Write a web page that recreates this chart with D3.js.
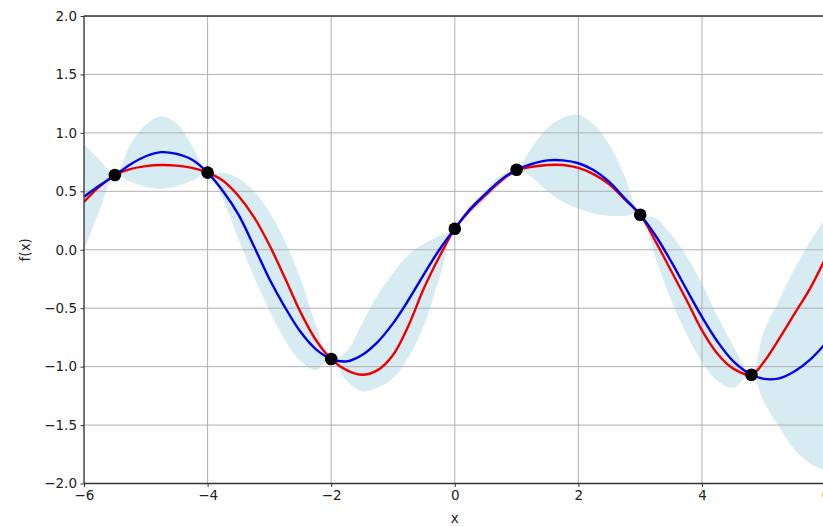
<!DOCTYPE html>
<html>
<head>
<meta charset="utf-8">
<script src="https://cdn.jsdelivr.net/npm/d3@7"></script>
<style>
  html, body { margin: 0; padding: 0; background: #fff; }
  svg { display: block; font-family: "DejaVu Sans", sans-serif; }
</style>
</head>
<body>
<svg id="chart" width="823" height="526"></svg>
<script>
// Sample positions along x
const xs = [-6, -5.75, -5.5, -5.25, -5, -4.75, -4.5, -4.25, -4, -3.75, -3.5, -3.25,
            -3, -2.75, -2.5, -2.25, -2, -1.75, -1.5, -1.25, -1, -0.75, -0.5, -0.25,
            0, 0.25, 0.5, 0.75, 1, 1.25, 1.5, 1.75, 2, 2.25, 2.5, 2.75,
            3, 3.25, 3.5, 3.75, 4, 4.25, 4.5, 4.8, 5, 5.25, 5.5, 5.75, 6];

// True function (red)
const trueF = [0.41, 0.54, 0.64, 0.69, 0.715, 0.725, 0.72, 0.70, 0.66, 0.59, 0.46, 0.28,
               0.04, -0.24, -0.53, -0.77, -0.935, -1.03, -1.07, -1.03, -0.90, -0.65, -0.33, -0.06,
               0.18, 0.34, 0.47, 0.59, 0.68, 0.71, 0.725, 0.725, 0.70, 0.645, 0.56, 0.43,
               0.30, 0.07, -0.18, -0.43, -0.69, -0.89, -1.015, -1.07, -0.96, -0.76, -0.545, -0.33, -0.07];

// Posterior mean (blue)
const meanF = [0.454, 0.55, 0.635, 0.73, 0.80, 0.835, 0.82, 0.77, 0.66, 0.50, 0.30, 0.03,
               -0.25, -0.49, -0.70, -0.85, -0.935, -0.955, -0.90, -0.79, -0.63, -0.43, -0.21, 0.0,
               0.18, 0.35, 0.48, 0.60, 0.685, 0.735, 0.765, 0.765, 0.74, 0.68, 0.58, 0.44,
               0.30, 0.12, -0.10, -0.34, -0.575, -0.785, -0.95, -1.07, -1.105, -1.10, -1.04, -0.94, -0.80];

// Confidence band edges
const upperF = [0.90, 0.77, 0.64, 0.90, 1.07, 1.14, 1.08, 0.89, 0.66, 0.66, 0.61, 0.50,
                0.32, 0.075, -0.24, -0.64, -0.935, -0.87, -0.63, -0.39, -0.20, -0.04, 0.05, 0.12,
                0.18, 0.37, 0.51, 0.64, 0.685, 0.88, 1.04, 1.13, 1.155, 1.07, 0.90, 0.63,
                0.30, 0.27, 0.13, -0.055, -0.29, -0.57, -0.82, -1.07, -0.70, -0.43, -0.16, 0.07, 0.27];

const lowerF = [0.0, 0.33, 0.64, 0.58, 0.54, 0.52, 0.545, 0.59, 0.66, 0.43, 0.09, -0.23,
                -0.52, -0.77, -0.95, -1.03, -0.935, -1.12, -1.21, -1.18, -1.10, -0.92, -0.65, -0.24,
                0.18, 0.31, 0.43, 0.57, 0.685, 0.62, 0.50, 0.41, 0.35, 0.31, 0.29, 0.29,
                0.30, -0.07, -0.43, -0.72, -0.96, -1.12, -1.18, -1.07, -1.30, -1.52, -1.71, -1.83, -1.89];

// Observed training points
const obsX = [-5.5, -4, -2, 0, 1, 3, 4.8];
const obsY = [0.64, 0.66, -0.935, 0.18, 0.685, 0.30, -1.07];

const xTicks = [-6, -4, -2, 0, 2, 4, 6];
const yTicks = [-2.0, -1.5, -1.0, -0.5, 0.0, 0.5, 1.0, 1.5, 2.0];

const svg = d3.select("#chart");
const pL = 84, pR = 825.6, pT = 16, pB = 483.5;

const x = d3.scaleLinear().domain([-6, 6]).range([pL, pR]);
const y = d3.scaleLinear().domain([-2, 2]).range([pB, pT]);

svg.append("defs").append("clipPath").attr("id", "plotclip")
  .append("rect").attr("x", pL).attr("y", pT)
  .attr("width", pR - pL).attr("height", pB - pT);

const plot = svg.append("g").attr("clip-path", "url(#plotclip)");

const rows = xs.map((v, i) => ({ x: v, t: trueF[i], m: meanF[i], u: upperF[i], l: lowerF[i] }));
const smooth = d3.curveCatmullRom.alpha(0.5);

// Uncertainty band
plot.append("path")
  .datum(rows)
  .attr("fill", "#add8e6")
  .attr("fill-opacity", 0.5)
  .attr("d", d3.area().curve(smooth)
    .x(d => x(d.x)).y0(d => y(d.l)).y1(d => y(d.u)));

// Grid lines
const grid = plot.append("g").attr("stroke", "#b0b0b0").attr("stroke-width", 1);
grid.selectAll("line.gx").data(xTicks).join("line").attr("class", "gx")
  .attr("x1", d => x(d)).attr("x2", d => x(d)).attr("y1", pT).attr("y2", pB);
grid.selectAll("line.gy").data(yTicks).join("line").attr("class", "gy")
  .attr("y1", d => y(d)).attr("y2", d => y(d)).attr("x1", pL).attr("x2", pR);

// Curves
const lineOf = key => d3.line().curve(smooth)
  .x(d => x(d.x)).y(d => y(d[key]));
plot.append("path").datum(rows).attr("fill", "none")
  .attr("stroke", "#ee0000").attr("stroke-width", 2.4).attr("d", lineOf("t"));
plot.append("path").datum(rows).attr("fill", "none")
  .attr("stroke", "#0000ee").attr("stroke-width", 2.4).attr("d", lineOf("m"));

// Observations
svg.append("g").selectAll("circle").data(obsX).join("circle")
  .attr("cx", (d) => x(d)).attr("cy", (d, i) => y(obsY[i]))
  .attr("r", 6.3).attr("fill", "#000");

// Axes
const fmtY = d3.format(".1f");
const xAxis = svg.append("g").attr("transform", `translate(0,${pB})`)
  .call(d3.axisBottom(x).tickValues(xTicks).tickFormat(d3.format("d")).tickSizeInner(3.5).tickSizeOuter(0).tickPadding(3.5));
const yAxis = svg.append("g").attr("transform", `translate(${pL},0)`)
  .call(d3.axisLeft(y).tickValues(yTicks).tickFormat(fmtY).tickSizeInner(3.5).tickSizeOuter(0).tickPadding(3.5));

[xAxis, yAxis].forEach(g => {
  g.select(".domain").remove();
  g.selectAll(".tick line").attr("stroke", "#333").attr("stroke-width", 1);
  g.selectAll(".tick text").attr("fill", "#222").style("font-size", "13.5px")
    .style("font-family", "'DejaVu Sans', sans-serif");
});

// Frame (spines)
const spine = svg.append("g").attr("stroke", "#333").attr("stroke-width", 1.3);
spine.append("line").attr("x1", pL).attr("x2", pL).attr("y1", pT).attr("y2", pB);
spine.append("line").attr("x1", pL).attr("x2", pR).attr("y1", pB).attr("y2", pB);
spine.append("line").attr("x1", pL).attr("x2", pR).attr("y1", pT).attr("y2", pT);
spine.append("line").attr("x1", pR).attr("x2", pR).attr("y1", pT).attr("y2", pB);

// Axis titles
svg.append("text").attr("x", (pL + pR) / 2).attr("y", 523)
  .attr("text-anchor", "middle").attr("fill", "#222").style("font-size", "13.5px").text("x");
svg.append("text").attr("transform", `translate(30,${(pT + pB) / 2}) rotate(-90)`)
  .attr("text-anchor", "middle").attr("fill", "#222").style("font-size", "13.5px").text("f(x)");
</script>
</body>
</html>
